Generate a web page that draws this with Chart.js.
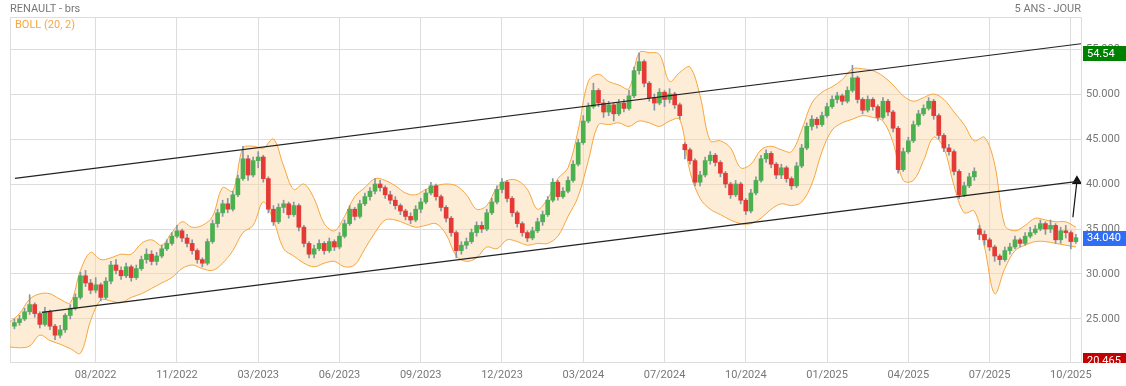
<!doctype html>
<html lang="fr">
<head>
<meta charset="utf-8">
<title>RENAULT - brs</title>
<script src="https://cdn.jsdelivr.net/npm/chart.js@4.4.0/dist/chart.umd.min.js"></script>
<style>
  html, body { margin: 0; padding: 0; background: #fff; }
  #wrap { position: relative; width: 1126px; height: 386px; }
</style>
</head>
<body>
<div id="wrap"><canvas id="chart"></canvas></div>
<script>
// x axis: one unit = one candle, labels sit on every 16th candle
const tickIndex = [17, 33, 49, 65, 81, 97, 113, 129, 145, 161, 177, 193, 209];
const tickLabels = ['08/2022', '11/2022', '03/2023', '06/2023', '09/2023', '12/2023', '03/2024',
                    '07/2024', '10/2024', '01/2025', '04/2025', '07/2025', '10/2025'];
const yTicks = [25, 30, 35, 40, 45, 50, 55];

const opens = [
  24.2,24.6,25.0,25.8,26.6,25.6,24.4,25.8,24.2,23.2,
  23.8,25.4,26.2,27.4,29.8,29.0,28.2,28.8,27.4,29.2,
  31.0,30.4,29.8,30.8,29.6,30.6,31.6,32.2,31.4,32.0,
  32.8,33.4,34.2,34.8,34.0,33.4,32.6,31.6,31.2,33.6,
  35.6,36.8,37.8,37.2,38.8,40.6,42.8,41.0,42.6,43.0,
  40.6,37.2,35.8,37.4,37.8,36.6,37.6,35.2,33.4,32.2,
  32.8,33.4,32.6,33.6,33.0,34.2,35.6,37.2,36.4,37.8,
  38.6,39.2,40.0,39.6,38.8,38.2,37.6,37.0,36.4,36.0,
  37.2,38.0,39.0,39.8,38.6,37.4,36.2,34.6,32.6,33.2,
  33.6,34.6,35.4,35.0,36.8,38.0,39.4,40.2,38.4,36.8,
  35.6,34.6,34.0,34.8,35.8,36.6,38.2,40.2,38.6,39.2,
  40.4,42.2,44.6,47.0,48.6,50.4,49.0,48.0,48.8,47.8,
  49.0,48.4,49.8,52.6,53.6,51.2,49.6,49.0,50.2,49.4,
  50.0,48.8,44.4,43.8,42.6,40.2,41.0,42.6,43.2,42.4,
  41.2,40.0,38.8,40.0,38.2,37.0,39.0,40.4,42.8,43.4,
  42.2,41.0,41.8,40.6,39.8,42.0,44.0,46.4,47.2,46.6,
  47.6,48.6,49.4,49.8,49.2,50.4,51.8,49.4,48.2,49.4,
  48.6,47.4,49.2,48.0,46.2,41.6,43.6,44.8,46.6,47.8,
  48.4,49.2,47.6,45.4,44.0,43.6,41.4,38.8,39.8,40.8,
  35.0,34.4,33.8,33.0,32.0,31.6,32.6,33.0,33.8,33.4,
  34.2,34.6,35.0,35.6,35.0,35.4,33.8,34.8,34.6,33.6
];
const highs = [
  25.0,25.4,26.2,27.7,26.8,25.8,26.3,26.0,24.4,24.3,
  25.6,26.6,27.8,30.2,30.4,29.4,29.6,29.0,29.6,31.4,
  31.6,30.8,31.2,31.0,31.0,32.0,32.8,32.6,32.4,33.2,
  33.8,34.6,35.4,35.0,34.4,33.8,32.8,31.8,33.9,36.0,
  37.2,38.2,38.4,39.2,41.0,44.2,43.2,43.0,43.6,43.2,
  40.8,37.6,37.8,38.2,38.0,38.0,37.8,35.4,33.6,33.2,
  33.8,33.6,34.0,33.8,34.6,36.0,37.6,37.4,38.2,39.0,
  39.6,40.6,40.4,39.8,39.2,38.6,37.8,37.2,36.8,37.6,
  38.4,39.4,40.2,40.0,38.8,37.6,36.4,34.8,33.6,34.0,
  35.0,35.8,35.8,37.2,38.4,39.8,40.6,40.4,38.6,37.0,
  35.8,34.8,35.2,36.2,37.0,38.6,40.6,40.4,39.6,40.8,
  42.6,45.0,47.6,49.0,51.2,50.6,49.4,49.2,49.0,49.4,
  49.4,50.4,53.0,54.54,53.8,51.4,50.0,50.6,50.4,50.6,
  50.2,49.0,44.6,44.0,42.8,41.4,43.0,43.6,43.4,42.6,
  41.4,40.2,40.4,40.2,38.4,39.4,40.8,43.2,43.8,43.6,
  42.4,42.2,42.0,40.8,42.4,44.4,46.8,47.6,47.4,48.0,
  49.0,49.8,50.2,50.0,50.8,53.2,52.0,49.6,49.8,49.6,
  48.8,49.6,49.4,48.2,46.4,44.0,45.2,47.0,48.2,48.8,
  49.6,49.4,47.8,45.6,44.4,43.8,41.6,40.2,41.2,41.8,
  35.4,34.8,34.0,33.2,32.2,33.0,33.4,34.2,34.0,34.6,
  35.2,35.4,36.0,35.8,36.0,35.6,35.2,35.4,34.8,34.4
];
const lows = [
  23.9,24.3,24.8,25.5,25.2,24.0,24.2,23.8,22.7,22.9,
  23.5,25.0,26.0,27.2,28.6,27.8,27.9,27.0,27.2,28.9,
  30.0,29.4,29.6,29.2,29.4,30.4,31.2,31.0,31.0,31.8,
  32.6,33.2,34.0,33.6,33.0,32.2,31.2,30.8,31.0,33.4,
  35.2,36.4,36.8,37.0,38.6,40.4,40.4,40.8,41.8,40.2,
  36.8,35.4,35.6,36.8,36.2,36.4,34.8,33.0,31.8,31.8,
  32.6,32.2,32.4,32.6,32.8,34.0,35.4,36.0,36.2,37.6,
  38.2,38.9,39.2,38.4,37.8,37.2,36.6,36.0,35.6,35.8,
  36.8,37.8,38.8,38.2,37.0,35.8,34.2,31.8,32.2,32.8,
  33.4,34.2,34.6,34.8,36.6,37.8,39.0,38.0,36.4,35.2,
  34.2,33.6,33.8,34.6,35.4,36.4,38.0,38.2,38.4,39.0,
  40.2,42.0,44.4,46.8,48.4,48.6,47.4,47.6,47.0,47.6,
  48.0,48.2,49.6,52.2,50.8,49.2,48.2,48.8,48.6,49.0,
  48.4,47.2,42.8,42.2,39.8,39.8,40.8,42.2,42.0,40.8,
  39.6,38.4,38.6,37.8,36.6,36.8,38.8,40.2,42.4,41.8,
  40.6,40.6,40.2,39.4,39.6,41.8,43.8,46.0,46.2,46.4,
  47.4,48.4,49.0,48.8,49.0,50.2,49.0,47.8,48.0,48.2,
  47.0,47.2,47.6,45.8,41.2,41.4,43.4,44.6,46.4,47.6,
  48.2,47.2,45.0,43.6,43.2,41.0,38.4,38.6,39.6,40.4,
  33.8,33.2,32.6,31.4,31.0,31.4,32.2,32.8,33.0,33.2,
  34.0,34.4,34.8,34.4,34.6,33.4,33.4,34.0,32.8,33.4
];
const closes = [
  24.6,25.0,25.8,26.6,25.6,24.4,25.8,24.2,23.2,23.8,
  25.4,26.2,27.4,29.8,29.0,28.2,28.8,27.4,29.2,31.0,
  30.4,29.8,30.8,29.6,30.6,31.6,32.2,31.4,32.0,32.8,
  33.4,34.2,34.8,34.0,33.4,32.6,31.6,31.2,33.6,35.6,
  36.8,37.8,37.2,38.8,40.6,42.8,41.0,42.6,43.0,40.6,
  37.2,35.8,37.4,37.8,36.6,37.6,35.2,33.4,32.2,32.8,
  33.4,32.6,33.6,33.0,34.2,35.6,37.2,36.4,37.8,38.6,
  39.2,40.0,39.6,38.8,38.2,37.6,37.0,36.4,36.0,37.2,
  38.0,39.0,39.8,38.6,37.4,36.2,34.6,32.6,33.2,33.6,
  34.6,35.4,35.0,36.8,38.0,39.4,40.2,38.4,36.8,35.6,
  34.6,34.0,34.8,35.8,36.6,38.2,40.2,38.6,39.2,40.4,
  42.2,44.6,47.0,48.6,50.4,49.0,48.0,48.8,47.8,49.0,
  48.4,49.8,52.6,53.6,51.2,49.6,49.0,50.2,49.4,50.0,
  48.8,47.6,43.8,42.6,40.2,41.0,42.6,43.2,42.4,41.2,
  40.0,38.8,40.0,38.2,37.0,39.0,40.4,42.8,43.4,42.2,
  41.0,41.8,40.6,39.8,42.0,44.0,46.4,47.2,46.6,47.6,
  48.6,49.4,49.8,49.2,50.4,51.8,49.4,48.2,49.4,48.6,
  47.4,49.2,48.0,46.2,41.6,43.6,44.8,46.6,47.8,48.4,
  49.2,47.6,45.4,44.0,43.6,41.4,38.8,39.8,40.8,41.4,
  34.4,33.8,33.0,32.0,31.6,32.6,33.0,33.8,33.4,34.2,
  34.6,35.0,35.6,35.0,35.4,33.8,34.8,34.6,33.6,34.04
];

// Bollinger (20, 2), one value every BOLL_STEP candles from candle 0
const BOLL_STEP = 2;
const bollUpper = [
  24.6,25.6,27.2,27.8,27.8,27.2,26.8,30.4,32.4,31.6,
  31.8,32.2,32.2,33.4,33.8,33.2,34.6,35.8,35.2,35.4,
  36.4,39.6,39.2,44.0,44.2,44.0,45.0,42.0,39.4,40.0,
  38.4,35.6,34.8,36.4,38.6,39.6,40.6,40.4,39.8,39.0,
  38.8,39.4,39.8,40.0,39.8,38.8,37.2,37.6,39.6,40.4,
  40.4,39.4,37.2,38.4,40.6,41.8,46.0,51.4,52.2,51.4,
  51.0,50.6,54.6,54.6,54.4,51.4,52.4,53.0,49.8,44.8,
  44.8,44.0,41.8,42.2,43.8,44.2,43.8,43.6,46.0,49.0,
  50.2,50.8,51.6,52.8,52.8,52.6,52.0,51.0,49.8,49.2,
  49.6,50.0,49.4,48.0,46.6,44.8,45.2,42.2,35.4,34.8,
  35.4,36.2,36.0,35.8,35.8,35.2
];
const bollLower = [
  21.9,21.8,22.0,23.2,22.6,22.2,21.7,21.2,24.8,27.1,
  27.0,26.8,27.4,27.8,28.4,29.0,29.6,30.6,31.0,30.6,
  30.4,31.2,32.6,34.6,35.4,38.0,36.0,32.8,32.0,31.2,
  30.8,31.2,31.4,30.8,31.0,32.8,34.6,36.0,36.0,35.6,
  35.2,35.4,35.6,34.4,32.0,31.4,31.8,33.0,32.8,33.8,
  33.6,33.2,33.4,33.4,34.2,36.4,38.6,42.6,46.6,46.6,
  46.8,46.4,47.0,46.8,46.4,47.0,47.2,41.4,38.4,37.2,
  36.6,36.0,35.6,35.6,36.2,37.2,37.8,37.6,38.0,40.0,
  43.6,46.0,46.8,47.2,47.6,47.4,47.0,44.6,40.4,40.4,
  42.6,45.2,44.0,39.8,36.8,37.0,33.0,27.8,30.6,32.6,
  33.2,33.6,33.6,33.4,33.2,33.0
];

// channel lines and the arrow: [candle index, price]
const channelTop = [[1.1, 40.63], [211, 55.59]];
const channelBottom = [[6.4, 25.74], [210.8, 40.33]];
const arrowLine = [[209.4, 36.3], [210.2, 40.33]];

const tagValues = [54.54, 34.04, 20.465];
const tagTexts = ['54.54', '34.040', '20.465'];

const FONT = 'Roboto';
const GREEN = '#4caf50', RED = '#e53935';
const tagColors = ['#008000', '#2f6df6', '#c40000'];

const candleX = closes.map((c, i) => i + 1);
const toXY = pts => pts.map(p => ({ x: p[0], y: p[1] }));

const overlay = {
  id: 'overlay',
  beforeDatasetsDraw(chart) {
    const { ctx, chartArea: a } = chart;
    ctx.save();
    ctx.strokeStyle = '#ddd';
    ctx.lineWidth = 1;
    ctx.strokeRect(a.left + 0.5, a.top + 0.5, a.right - a.left, a.bottom - a.top);
    ctx.restore();
  },
  afterDraw(chart) {
    const { ctx, chartArea: a, scales } = chart;
    ctx.save();
    ctx.font = '11px ' + FONT;
    ctx.textBaseline = 'middle';
    ctx.fillStyle = '#777';
    ctx.textAlign = 'left';
    ctx.fillText('RENAULT - brs', 10, 9);
    ctx.textAlign = 'right';
    ctx.fillText('5 ANS - JOUR', a.right, 9);
    ctx.textAlign = 'left';
    ctx.fillStyle = '#f5a742';
    ctx.fillText('BOLL (20, 2)', a.left + 5, a.top + 8);

    // price tags on the right axis
    ctx.beginPath();
    ctx.rect(a.right, 0, chart.width - a.right, a.bottom + 1);
    ctx.clip();
    tagValues.forEach((v, i) => {
      const y = scales.y.getPixelForValue(v);
      ctx.fillStyle = tagColors[i];
      ctx.fillRect(a.right + 2, Math.round(y - 7), chart.width - a.right - 2, 15);
      ctx.fillStyle = '#fff';
      ctx.fillText(tagTexts[i], a.right + 6, y + 1);
    });
    ctx.restore();
  }
};

new Chart(document.getElementById('chart'), {
  type: 'bar',
  data: {
    datasets: [
      {
        type: 'line',
        data: bollUpper.map((v, k) => ({ x: k * BOLL_STEP, y: v })),
        borderColor: '#f7a53c',
        borderWidth: 1,
        pointRadius: 0,
        tension: 0.35,
        fill: '+1',
        backgroundColor: 'rgba(252, 214, 165, 0.45)',
        order: 5
      },
      {
        type: 'line',
        data: bollLower.map((v, k) => ({ x: k * BOLL_STEP, y: v })),
        borderColor: '#f7a53c',
        borderWidth: 1,
        pointRadius: 0,
        tension: 0.35,
        fill: false,
        order: 4
      },
      {
        data: candleX.map((x, i) => ({ x: x, y: [lows[i], highs[i]] })),
        backgroundColor: '#8795a5',
        barThickness: 1,
        grouped: false,
        order: 2
      },
      {
        data: candleX.map((x, i) => ({ x: x, y: [opens[i], closes[i]] })),
        backgroundColor: closes.map((c, i) => c >= opens[i] ? GREEN : RED),
        barThickness: 4,
        minBarLength: 1,
        grouped: false,
        order: 1
      },
      {
        type: 'line',
        data: toXY(channelTop),
        borderColor: '#222',
        borderWidth: 1.2,
        pointRadius: 0,
        order: 0
      },
      {
        type: 'line',
        data: toXY(channelBottom),
        borderColor: '#222',
        borderWidth: 1.2,
        pointRadius: 0,
        order: 0
      },
      {
        type: 'line',
        data: toXY(arrowLine),
        borderColor: '#111',
        borderWidth: 1.2,
        pointRadius: [0, 4.6],
        pointStyle: 'triangle',
        pointBackgroundColor: '#111',
        pointBorderColor: '#111',
        order: 0
      }
    ]
  },
  options: {
    responsive: true,
    maintainAspectRatio: false,
    devicePixelRatio: 1,
    animation: false,
    layout: { padding: { top: 17, left: 10, right: 0, bottom: 0 } },
    plugins: { legend: { display: false }, tooltip: { enabled: false } },
    scales: {
      x: {
        type: 'linear',
        min: 0.13,
        max: 211,
        offset: false,
        afterBuildTicks: s => { s.ticks = tickIndex.map(v => ({ value: v })); },
        afterFit: s => { s.height = 24; },
        grid: { color: '#ddd', drawTicks: false, offset: false },
        border: { color: '#ddd' },
        ticks: {
          autoSkip: false,
          maxRotation: 0,
          padding: 7,
          color: '#777',
          font: { family: FONT, size: 11 },
          callback: (v, i) => tickLabels[i]
        }
      },
      y: {
        position: 'right',
        min: 20.22,
        max: 58.56,
        afterBuildTicks: s => { s.ticks = yTicks.map(v => ({ value: v })); },
        afterFit: s => { s.width = 45; },
        grid: { color: '#ddd', drawTicks: false },
        border: { color: '#ddd' },
        ticks: {
          padding: 5,
          color: '#777',
          font: { family: FONT, size: 11 },
          callback: v => v.toFixed(3)
        }
      }
    }
  },
  plugins: [overlay]
});
</script>
</body>
</html>
